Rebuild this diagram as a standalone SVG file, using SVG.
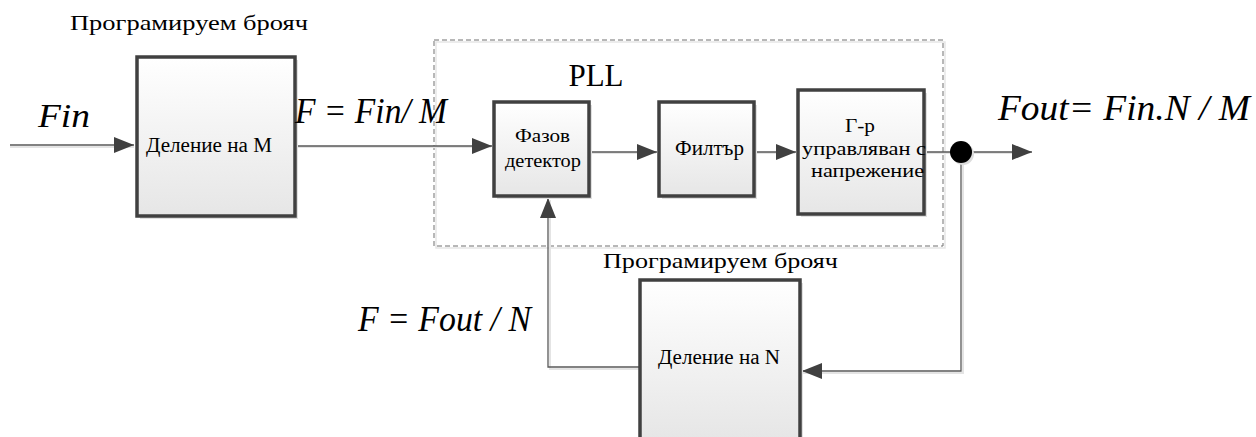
<svg xmlns="http://www.w3.org/2000/svg" width="1256" height="437" viewBox="0 0 1256 437">
  <defs>
    <linearGradient id="boxFill" x1="0" y1="0" x2="0" y2="1">
      <stop offset="0" stop-color="#ffffff"/>
      <stop offset="1" stop-color="#e6e6e6"/>
    </linearGradient>
    <marker id="arrow" viewBox="0 0 20 16" refX="20" refY="8" markerWidth="20" markerHeight="16" markerUnits="userSpaceOnUse" orient="auto">
      <path d="M0,0 L20,8 L0,16 Z" fill="#404040"/>
    </marker>
  </defs>
  <style>
    .box { fill: url(#boxFill); stroke: #404040; stroke-width: 3.5; }
    .shadow { fill: #e0e0e0; }
    .wire { fill: none; stroke: #595959; stroke-width: 1.3; }
    .wire-shadow { fill: none; stroke: #e4e4e4; stroke-width: 2; }
    text { font-family: 'Liberation Serif', 'Tinos', 'Times New Roman', 'Noto Serif', 'DejaVu Serif', serif; fill: #000; }
    .math { font-style: italic; }
  </style>
  <rect width="1256" height="437" fill="#ffffff"/>

  <!-- PLL frame -->
  <g id="pll-frame">
    <rect x="434" y="40" width="509" height="206" fill="none" stroke="#e6e6e6" stroke-width="1.5" transform="translate(2,2)"/>
    <rect x="434" y="40" width="509" height="206" fill="none" stroke="#707070" stroke-width="1" stroke-dasharray="5,3"/>
    <text x="596" y="86" font-size="31" text-anchor="middle">PLL</text>
  </g>

  <!-- connectors -->
  <g id="connectors">
    <path class="wire-shadow" d="M10,147 H134 M295,147 H491 M589,153 H656 M754,153 H795 M924,153 H1030 M963,165 V373 H803 M641,369 H550 V200"/>
    <path class="wire" d="M10,145 H134" marker-end="url(#arrow)"/>
    <path class="wire" d="M295,146 H492" marker-end="url(#arrow)"/>
    <path class="wire" d="M589,152 H657" marker-end="url(#arrow)"/>
    <path class="wire" d="M754,152 H796" marker-end="url(#arrow)"/>
    <path class="wire" d="M924,152 H1032" marker-end="url(#arrow)"/>
    <path class="wire" d="M961,152 V371 H802" marker-end="url(#arrow)"/>
    <path class="wire" d="M640,367 H548 V198" marker-end="url(#arrow)"/>
    <circle cx="963" cy="154" r="11" fill="#dcdcdc"/>
    <circle cx="961" cy="152" r="11" fill="#000"/>
  </g>

  <!-- divide by M -->
  <g id="div-m">
    <rect class="shadow" x="140" y="60" width="158" height="159"/>
    <rect class="box" x="137" y="57" width="158" height="159"/>
    <text x="146" y="152" font-size="20" textLength="126" lengthAdjust="spacingAndGlyphs">Деление на М</text>
    <text x="70" y="30" font-size="22" textLength="238" lengthAdjust="spacingAndGlyphs">Програмируем брояч</text>
  </g>

  <!-- phase detector -->
  <g id="phase-detector">
    <rect class="shadow" x="497" y="105" width="95" height="94"/>
    <rect class="box" x="494" y="102" width="95" height="94"/>
    <text x="515" y="142" font-size="19" textLength="55" lengthAdjust="spacingAndGlyphs">Фазов</text>
    <text x="505" y="167" font-size="19" textLength="76" lengthAdjust="spacingAndGlyphs">детектор</text>
  </g>

  <!-- loop filter -->
  <g id="filter">
    <rect class="shadow" x="662" y="105" width="95" height="94"/>
    <rect class="box" x="659" y="102" width="95" height="94"/>
    <text x="675" y="155" font-size="20" textLength="69" lengthAdjust="spacingAndGlyphs">Филтър</text>
  </g>

  <!-- voltage controlled oscillator -->
  <g id="vco">
    <rect class="shadow" x="801" y="93" width="126" height="124"/>
    <rect class="box" x="798" y="90" width="126" height="124"/>
    <text x="845" y="132" font-size="19" textLength="30" lengthAdjust="spacingAndGlyphs">Г-р</text>
    <text x="802" y="155" font-size="19" textLength="124" lengthAdjust="spacingAndGlyphs">управляван с</text>
    <text x="811" y="177" font-size="19" textLength="113" lengthAdjust="spacingAndGlyphs">напрежение</text>
  </g>

  <!-- divide by N -->
  <g id="div-n">
    <rect class="shadow" x="643" y="283" width="160" height="160"/>
    <rect class="box" x="640" y="280" width="160" height="160"/>
    <text x="658" y="364" font-size="20" textLength="122" lengthAdjust="spacingAndGlyphs">Деление на N</text>
    <text x="603" y="268" font-size="22" textLength="235" lengthAdjust="spacingAndGlyphs">Програмируем брояч</text>
  </g>

  <!-- frequency formulas -->
  <g id="formulas">
    <text class="math" x="38" y="127" font-size="34" textLength="52" lengthAdjust="spacingAndGlyphs">Fin</text>
    <text class="math" x="295" y="123" font-size="35" textLength="152" lengthAdjust="spacingAndGlyphs">F = Fin/ M</text>
    <text class="math" x="998" y="120" font-size="35" textLength="252" lengthAdjust="spacingAndGlyphs">Fout= Fin.N / M</text>
    <text class="math" x="358" y="331" font-size="35" textLength="173" lengthAdjust="spacingAndGlyphs">F = Fout / N</text>
  </g>
</svg>
